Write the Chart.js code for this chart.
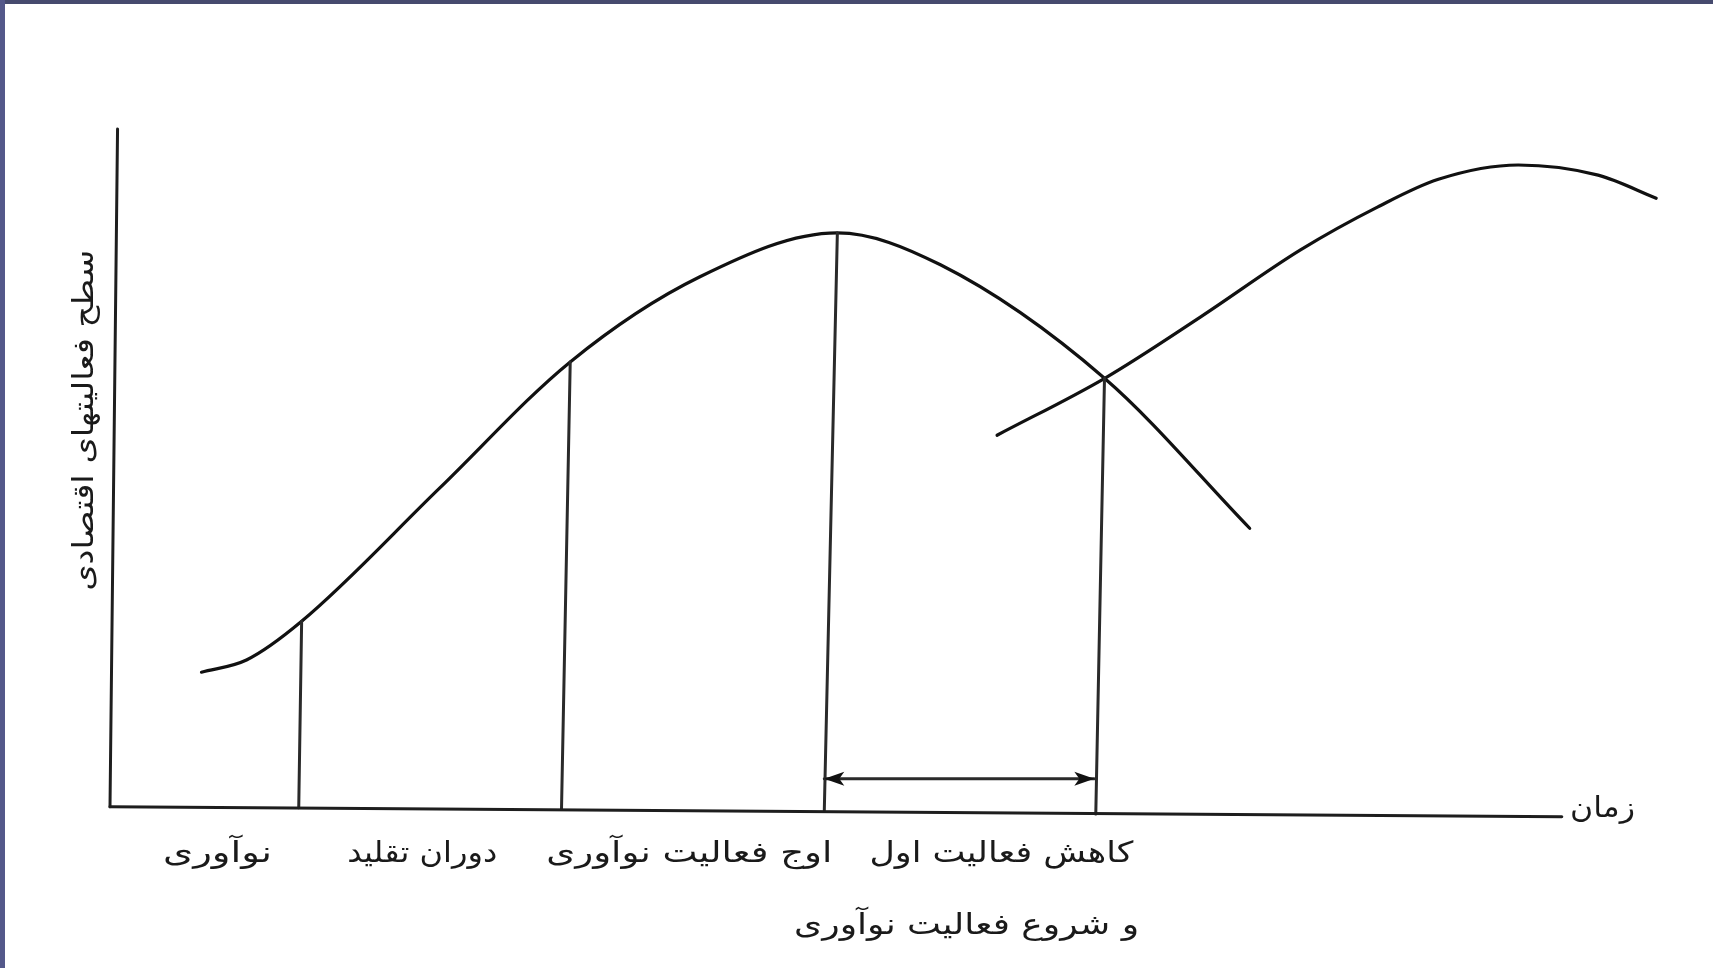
<!DOCTYPE html>
<html><head><meta charset="utf-8">
<script src="https://cdn.jsdelivr.net/npm/chart.js@4/dist/chart.umd.min.js"></script>
<style>
html,body{margin:0;padding:0;background:#fff;overflow:hidden}
#wrap{position:relative;width:1713px;height:968px}
canvas{display:block}
#top{position:absolute;left:0;top:0;width:1713px;height:4px;background:#464a6e}
#left{position:absolute;left:0;top:0;width:5px;height:968px;background:#54588a}
</style></head><body>
<div id="wrap"><canvas id="c" width="1713" height="968"></canvas><div id="top"></div><div id="left"></div></div>
<script>
// ---- data (time units on x, activity level on y) ----
const firstCycleTime  = [6.3, 9.4, 13.2, 22.7, 31.7, 40.6, 50.1, 57.2, 68.5, 78.5];
const firstCycleLevel = [20.0, 21.8, 27.5, 47.1, 65.7, 78.2, 84.7, 80.0, 63.3, 41.2];
const secondCycleTime  = [61.1, 68.6, 75.1, 82.0, 87.3, 91.5, 97.0, 102.5, 106.5];
const secondCycleLevel = [54.9, 63.4, 72.3, 82.2, 88.5, 92.6, 94.7, 93.2, 89.8];
const boundaryTimeBase  = [13.0, 31.1, 49.2, 67.9];
const boundaryLevelBase = [0.05, -0.1, -0.4, -0.9];
const boundaryTimeTop   = [13.2, 31.7, 50.1, 68.5];
const boundaryLevelTop  = [27.5, 65.7, 84.7, 63.3];
const timeAxisTime  = [0, 100];
const timeAxisLevel = [0.2, -1.3];
const levelAxisTime  = [0, 0.52];
const levelAxisLevel = [0.2, 100];
const lagTime  = [49.2, 67.8];
const lagLevel = [4.3, 4.3];
const phaseLabels = ['نوآوری', 'دوران تقلید', 'اوج فعالیت نوآوری', 'کاهش فعالیت اول', 'و شروع فعالیت نوآوری'];
const timeTitle = 'زمان';
const levelTitle = 'سطح فعالیتهای اقتصادی';

// ---- layout for text (separate from data) ----
const phaseLabelLayout = [
  {x: 7.4,  y: -6.8,  w: 109},
  {x: 21.5, y: -6.8,  w: 150},
  {x: 39.9, y: -6.8,  w: 286},
  {x: 61.4, y: -6.8,  w: 264},
  {x: 59.0, y: -17.4, w: 345}
];
const timeTitleLayout = {x: 102.8, y: -0.2, w: 65};
const levelTitleLayout = {x: -1.7, y: 57.1, w: 341};
const FONT = '29px "DejaVu Sans", "Noto Sans", sans-serif';

const pts = (xs, ys) => xs.map((x, i) => ({x, y: ys[i]}));
const datasets = [];
datasets.push({data: pts(timeAxisTime, timeAxisLevel), borderColor: '#1e1e1e', borderWidth: 3, tension: 0});
datasets.push({data: pts(levelAxisTime, levelAxisLevel), borderColor: '#1e1e1e', borderWidth: 3, tension: 0});
boundaryTimeBase.forEach((t, i) => {
  datasets.push({data: [{x: t, y: boundaryLevelBase[i]}, {x: boundaryTimeTop[i], y: boundaryLevelTop[i]}],
    borderColor: '#2a2a2a', borderWidth: 3, tension: 0});
});
datasets.push({data: pts(lagTime, lagLevel), borderColor: '#2a2a2a', borderWidth: 3, tension: 0});
datasets.push({data: pts(firstCycleTime, firstCycleLevel), borderColor: '#111', borderWidth: 3.2, cubicInterpolationMode: 'monotone'});
datasets.push({data: pts(secondCycleTime, secondCycleLevel), borderColor: '#111', borderWidth: 3.2, cubicInterpolationMode: 'monotone'});
datasets.forEach(d => { d.showLine = true; d.pointRadius = 0; d.clip = false; d.fill = false; });

function drawText(ctx, text, px, py, targetW, rot) {
  ctx.save();
  ctx.font = FONT;
  ctx.fillStyle = '#1a1a1a';
  ctx.textAlign = 'center';
  ctx.textBaseline = 'middle';
  ctx.direction = 'rtl';
  const m = ctx.measureText(text).width;
  ctx.translate(px, py);
  if (rot) ctx.rotate(rot);
  ctx.scale(targetW / m, 1);
  ctx.fillText(text, 0, 0);
  ctx.restore();
}

const annot = {
  id: 'annot',
  afterDatasetsDraw(chart) {
    const {ctx, scales: {x, y}} = chart;
    const xa = x.getPixelForValue(lagTime[0]), xb = x.getPixelForValue(lagTime[1]);
    const ya = y.getPixelForValue(lagLevel[0]), yb = y.getPixelForValue(lagLevel[1]);
    ctx.save();
    ctx.fillStyle = '#111';
    [[xa, ya, 1], [xb, yb, -1]].forEach(([px, py, dir]) => {
      ctx.beginPath();
      ctx.moveTo(px, py);
      ctx.lineTo(px + dir * 20, py - 7);
      ctx.lineTo(px + dir * 15, py);
      ctx.lineTo(px + dir * 20, py + 7);
      ctx.closePath();
      ctx.fill();
    });
    ctx.restore();
    phaseLabels.forEach((t, i) => {
      const L = phaseLabelLayout[i];
      drawText(ctx, t, x.getPixelForValue(L.x), y.getPixelForValue(L.y), L.w, 0);
    });
    drawText(ctx, timeTitle, x.getPixelForValue(timeTitleLayout.x), y.getPixelForValue(timeTitleLayout.y), timeTitleLayout.w, 0);
    drawText(ctx, levelTitle, x.getPixelForValue(levelTitleLayout.x), y.getPixelForValue(levelTitleLayout.y), levelTitleLayout.w, -Math.PI / 2);
  }
};

new Chart(document.getElementById('c'), {
  type: 'scatter',
  data: {datasets},
  options: {
    responsive: false,
    animation: false,
    devicePixelRatio: 1,
    layout: {padding: {left: 110, right: 6, top: 129, bottom: 160}},
    plugins: {legend: {display: false}, tooltip: {enabled: false}},
    scales: {
      x: {type: 'linear', min: 0, max: 110, display: false},
      y: {type: 'linear', min: 0, max: 100, display: false}
    },
    elements: {line: {borderCapStyle: 'round', borderJoinStyle: 'round'}}
  },
  plugins: [annot]
});
</script>
</body></html>
